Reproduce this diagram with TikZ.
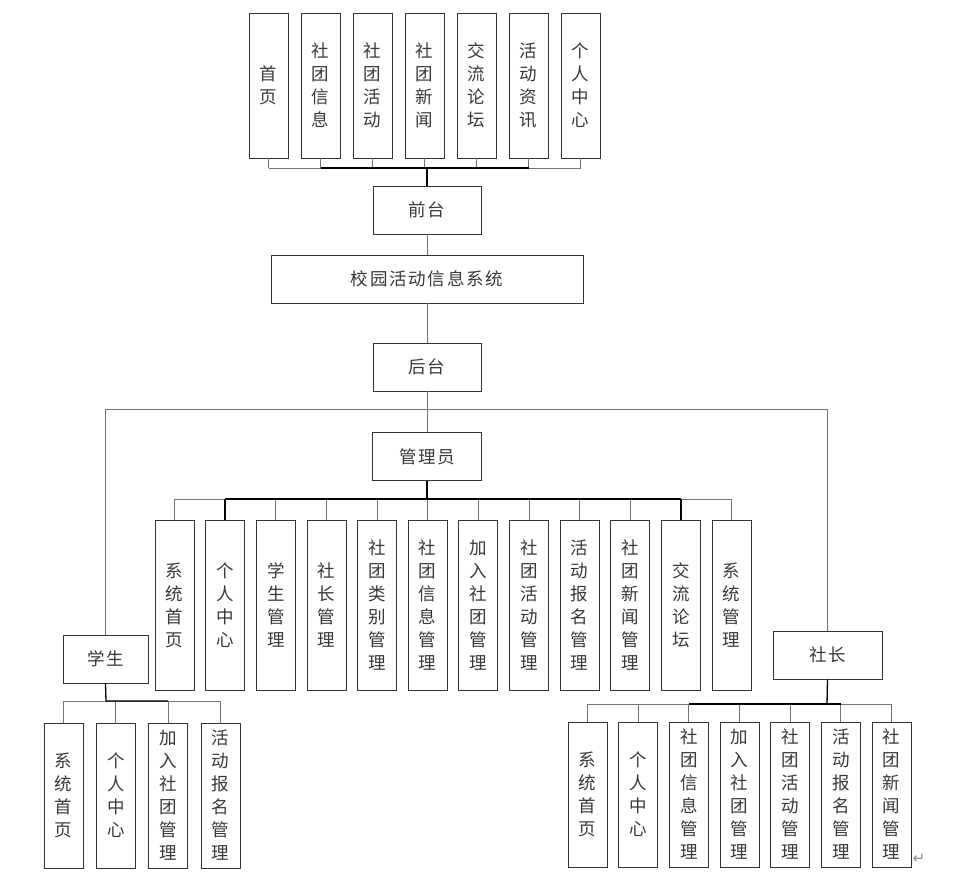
\documentclass[tikz,border=0pt]{standalone}
\usepackage{fontspec}
\newfontfamily\cjk{Noto Sans CJK SC}
\newfontfamily\cjkwide[LetterSpace=10]{Noto Sans CJK SC}
\newfontfamily\dejavu{DejaVu Sans}
\begin{document}
\begin{tikzpicture}[x=1pt,y=-1pt,
  box/.style={draw=black!80,line width=0.8pt,inner sep=0pt,align=center,
    text=black!78,font=\cjk\fontsize{17.5}{23}\selectfont},
  vbox/.style={box,minimum width=39pt},
  hbox/.style={box,minimum height=48pt,font=\cjkwide\fontsize{17.5}{23}\selectfont},
  conn/.style={draw=black!55,line width=0.8pt},
  trunk/.style={draw=black,line width=1.3pt}]
\useasboundingbox (0,0) rectangle (957,887);
% top row
\node[vbox,minimum height=145pt] (t1) at (268.5,85.5) {首\\页};
\node[vbox,minimum height=145pt] (t2) at (320.5,85.5) {社\\团\\信\\息};
\node[vbox,minimum height=145pt] (t3) at (372.5,85.5) {社\\团\\活\\动};
\node[vbox,minimum height=145pt] (t4) at (424.5,85.5) {社\\团\\新\\闻};
\node[vbox,minimum height=145pt] (t5) at (476.5,85.5) {交\\流\\论\\坛};
\node[vbox,minimum height=145pt] (t6) at (528.5,85.5) {活\\动\\资\\讯};
\node[vbox,minimum height=145pt] (t7) at (580.5,85.5) {个\\人\\中\\心};
\node[hbox,minimum width=108pt] (qt) at (427,210) {前台};
\node[hbox,minimum width=312pt] (sys) at (427,279) {校园活动信息系统};
\node[hbox,minimum width=108pt] (ht) at (427,367) {后台};
\node[hbox,minimum width=109pt] (gly) at (427,456.5) {管理员};
\node[hbox,minimum width=85pt] (xs) at (105.5,659) {学生};
\node[hbox,minimum width=109pt] (sz) at (827.5,655) {社长};
% admin children
\node[vbox,minimum height=170pt] (a1) at (174.5,605) {系\\统\\首\\页};
\node[vbox,minimum height=170pt] (a2) at (225.1,605) {个\\人\\中\\心};
\node[vbox,minimum height=170pt] (a3) at (275.8,605) {学\\生\\管\\理};
\node[vbox,minimum height=170pt] (a4) at (326.4,605) {社\\长\\管\\理};
\node[vbox,minimum height=170pt] (a5) at (377.0,605) {社\\团\\类\\别\\管\\理};
\node[vbox,minimum height=170pt] (a6) at (427.7,605) {社\\团\\信\\息\\管\\理};
\node[vbox,minimum height=170pt] (a7) at (478.3,605) {加\\入\\社\\团\\管\\理};
\node[vbox,minimum height=170pt] (a8) at (528.9,605) {社\\团\\活\\动\\管\\理};
\node[vbox,minimum height=170pt] (a9) at (579.6,605) {活\\动\\报\\名\\管\\理};
\node[vbox,minimum height=170pt] (a10) at (630.2,605) {社\\团\\新\\闻\\管\\理};
\node[vbox,minimum height=170pt] (a11) at (680.9,605) {交\\流\\论\\坛};
\node[vbox,minimum height=170pt] (a12) at (731.5,605) {系\\统\\管\\理};
% student children
\node[vbox,minimum height=145pt] (s1) at (63.5,795.5) {系\\统\\首\\页};
\node[vbox,minimum height=145pt] (s2) at (115.8,795.5) {个\\人\\中\\心};
\node[vbox,minimum height=145pt] (s3) at (168.2,795.5) {加\\入\\社\\团\\管\\理};
\node[vbox,minimum height=145pt] (s4) at (220.5,795.5) {活\\动\\报\\名\\管\\理};
% president children
\node[vbox,minimum height=145pt] (c1) at (587.5,794.5) {系\\统\\首\\页};
\node[vbox,minimum height=145pt] (c2) at (638.2,794.5) {个\\人\\中\\心};
\node[vbox,minimum height=145pt] (c3) at (688.8,794.5) {社\\团\\信\\息\\管\\理};
\node[vbox,minimum height=145pt] (c4) at (739.5,794.5) {加\\入\\社\\团\\管\\理};
\node[vbox,minimum height=145pt] (c5) at (790.2,794.5) {社\\团\\活\\动\\管\\理};
\node[vbox,minimum height=145pt] (c6) at (840.8,794.5) {活\\动\\报\\名\\管\\理};
\node[vbox,minimum height=145pt] (c7) at (891.5,794.5) {社\\团\\新\\闻\\管\\理};
\node[text=black!45,font=\dejavu\fontsize{15}{15}\selectfont] (pm) at (919,859) {↵};
% coordinates of buses
\coordinate (tb) at (427,168);
\coordinate (hb) at (427,409);
\coordinate (ab) at (427,499);
\coordinate (sb) at (106,701);
\coordinate (cb) at (827,704);
% top connectors
\foreach \n in {t1,t2,t3,t4,t5,t6,t7}{\draw[conn] (\n.south) -- (\n.south |- tb);}
\draw[conn] (t1.south |- tb) -- (t7.south |- tb);
\draw[trunk] (t2.south |- tb) -- (t6.south |- tb);
\draw[trunk] (qt.north) -- (tb);
\draw[conn] (qt.south) -- (sys.north);
\draw[conn] (sys.south) -- (ht.north);
% back-end split
\draw[conn] (ht.south) -- (gly.north);
\draw[conn] (xs.north) -- (xs.north |- hb) -- (sz.north |- hb) -- (sz.north);
% admin
\foreach \n in {a1,a2,a3,a4,a5,a6,a7,a8,a9,a10,a11,a12}{\draw[conn] (\n.north) -- (\n.north |- ab);}
\draw[conn] (a1.north |- ab) -- (a12.north |- ab);
\draw[trunk] (a2.north |- ab) -- (a11.north |- ab);
\draw[trunk] (a2.north) -- (a2.north |- ab);
\draw[trunk] (a11.north) -- (a11.north |- ab);
\draw[trunk] (gly.south) -- (ab);
% student
\foreach \n in {s1,s2,s3,s4}{\draw[conn] (\n.north) -- (\n.north |- sb);}
\draw[conn] (s1.north |- sb) -- (s4.north |- sb);
\draw[trunk] (xs.south) -- (sb) -- (s3.north |- sb);
% president
\foreach \n in {c1,c2,c3,c4,c5,c6,c7}{\draw[conn] (\n.north) -- (\n.north |- cb);}
\draw[conn] (c1.north |- cb) -- (c7.north |- cb);
\draw[trunk] (c3.north |- cb) -- (c6.north |- cb);
\draw[trunk] (sz.south) -- (cb);
\end{tikzpicture}
\end{document}
